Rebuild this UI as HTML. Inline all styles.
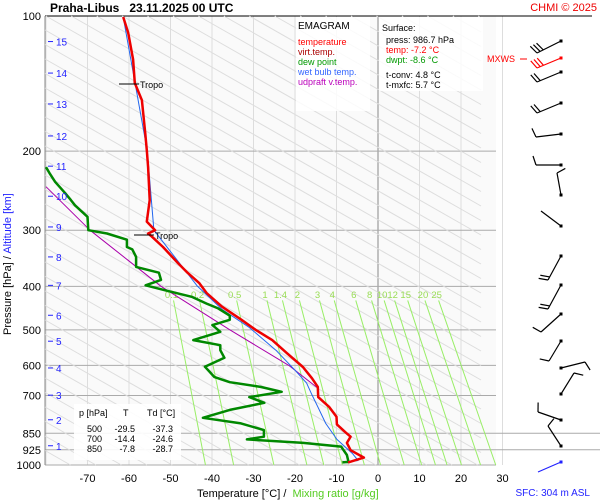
<!DOCTYPE html>
<html><head><meta charset="utf-8"><style>
html,body{margin:0;padding:0;background:#fff;width:600px;height:500px;overflow:hidden;}
svg{display:block;font-family:"Liberation Sans",sans-serif;}
</style></head><body>
<svg id="chart" width="600" height="500" viewBox="0 0 600 500">
<rect x="45" y="16" width="451" height="449" fill="#fafafa"/>
<g id="grid"></g>
<g id="adiabats"></g>
<g id="mixing"></g>
<g id="series"></g>
<g id="axes"></g>
<g id="winds"></g>

<text x="50" y="12" font-size="12" font-weight="bold">Praha-Libus&#160;&#160;&#160;23.11.2025 00 UTC</text>
<text x="597" y="11" font-size="11" fill="#e00" text-anchor="end">CHMI © 2025</text>

<g>
<rect x="296" y="17" width="74" height="94" fill="#fff" opacity="0.85"/>
<text x="298" y="29" font-size="10">EMAGRAM</text>
<text x="298" y="45" font-size="9" fill="#f00">temperature</text>
<text x="298" y="55" font-size="9" fill="#a00">virt.temp.</text>
<text x="298" y="65" font-size="9" fill="#090">dew point</text>
<text x="298" y="75" font-size="9" fill="#36f">wet bulb temp.</text>
<text x="298" y="85" font-size="9" fill="#b0b">udpraft v.temp.</text>
</g>
<g>
<rect x="379" y="17" width="104" height="74" fill="#fff" opacity="0.85"/>
<text x="382" y="31" font-size="9">Surface:</text>
<text x="386" y="43" font-size="9">press: 986.7 hPa</text>
<text x="386" y="53" font-size="9" fill="#f00">temp: -7.2 °C</text>
<text x="386" y="63" font-size="9" fill="#090">dwpt: -8.6 °C</text>
<text x="386" y="78" font-size="9">t-conv: 4.8 °C</text>
<text x="386" y="88" font-size="9">t-mxfc: 5.7 °C</text>
</g>
<g>
<rect x="74" y="404" width="107" height="56" fill="#fff" opacity="0.9"/>
<text x="79" y="416" font-size="9">p [hPa]</text><text x="123" y="416" font-size="9">T</text><text x="147" y="416" font-size="9">Td [°C]</text>
<text x="102" y="432" font-size="9" text-anchor="end">500</text><text x="135" y="432" font-size="9" text-anchor="end">-29.5</text><text x="173" y="432" font-size="9" text-anchor="end">-37.3</text>
<text x="102" y="442" font-size="9" text-anchor="end">700</text><text x="135" y="442" font-size="9" text-anchor="end">-14.4</text><text x="173" y="442" font-size="9" text-anchor="end">-24.6</text>
<text x="102" y="452" font-size="9" text-anchor="end">850</text><text x="135" y="452" font-size="9" text-anchor="end">-7.8</text><text x="173" y="452" font-size="9" text-anchor="end">-28.7</text>
</g>
<g>
<line x1="119" y1="84" x2="139" y2="84" stroke="#000"/><text x="140" y="88" font-size="9">Tropo</text>
<line x1="134" y1="235" x2="154" y2="235" stroke="#000"/><text x="155" y="239" font-size="9">Tropo</text>
</g>
<text x="487" y="62" font-size="9" fill="#f00">MXWS</text>
<line x1="520" y1="59" x2="527" y2="59" stroke="#f00"/>
<text transform="translate(11,335) rotate(-90)" font-size="11">Pressure [hPa]  /  <tspan fill="#22f">Altitude [km]</tspan></text>
<text x="197" y="497" font-size="11">Temperature [°C]  /  <tspan fill="#5c2" dx="3">Mixing ratio [g/kg]</tspan></text>
<text x="590" y="496" font-size="10" fill="#22f" text-anchor="end">SFC: 304 m ASL</text>
</svg>
<script>
const tempP=[986.7,963,927,893,865,846,812,781,742,706,670,641,605,564,527,500,475,444,414,393,373,355,327,310,305,300,287,257,217,199,182,154,141,125,109,100.5];
const tempT=[-7.2,-3.4,-6.6,-7.5,-6.6,-7.8,-9.9,-10,-11.8,-14.4,-14.5,-15.9,-18.1,-21.9,-25.5,-29.5,-32.9,-37.6,-41.3,-43.1,-45.9,-48.2,-51.8,-54.5,-55.4,-53.7,-55.7,-55,-55.4,-55.7,-56.1,-56.9,-58.6,-59,-60.2,-61.4];
const dewP=[986.7,984,950,910,893,877,865,836,808,785,754,727,706,687,670,654,637,604,577,555,541,527,505,488,475,465,448,437,422,408,398,387,373,362,344,331,327,315,305,300,280,264,257,248,234,225,217];
const dewT=[-8.6,-7.1,-7.5,-8.9,-18,-31.6,-27.5,-27.5,-33,-42.2,-35.7,-27.4,-31,-23.2,-28.3,-35.7,-39.4,-41.7,-37,-38,-38,-44.5,-38,-39.9,-35.7,-35.7,-38.5,-41.3,-44.9,-51.4,-56,-52.3,-52.8,-58.3,-58.3,-59.2,-60.5,-60.5,-65.3,-69.8,-70,-73,-74,-75.4,-77.8,-79,-80];
const wbP=[986.7,977,944,877,808,742,698,657,615,555,494,450,400,300,200,100.5];
const wbT=[-8,-4.8,-6.1,-9.9,-12.6,-14.5,-15.9,-17.2,-20,-24.6,-31,-37.6,-43.5,-54,-55.6,-61.4];
const updP=[674,600,500,400,300,240];
const updT=[-14.5,-21.5,-35.7,-52.3,-69.4,-80];
const pLabels=[100,200,300,400,500,600,700,850,925,1000];
const tLabels=[-70,-60,-50,-40,-30,-20,-10,0,10,20,30];
const mixRatios=[0.1,0.2,0.5,1,1.4,2,3,4,6,8,10,12,15,20,25];
const kmLabels=[1,2,3,4,5,6,7,8,9,10,11,12,13,14,15];
const kmPress=[906,793,699,608,530,464,398,344,295,252,216,185,157,134,114];
const windY=[41,58,72,103,134,165,195,226,256,285,314,341,368,394,420,446,462];
const windDx=[-24,-24,-24,-24,-25,-25,-4,-20,-13,-13,-20,-12,24,13,-23,-13,-23];
const windDy=[12,10,10,10,3,0,-22,-15,24,24,18,20,-6,-21,-8,-20,10];
const windFeathers=[3,3,2,2,1,1,1,0,2,2,1,1,1,1,1,1,0];
const windColor=["#000","#f00","#000","#000","#000","#000","#000","#000","#000","#000","#000","#000","#000","#000","#000","#000","#22f"];

const NS="http://www.w3.org/2000/svg";
const X0=378, KX=4.15, Y0=16, KY=449;
function xS(t){return X0+t*KX;}
function yS(p){return Y0+Math.log10(p/100)*KY;}
function mk(tag,attrs,parent){const e=document.createElementNS(NS,tag);for(const k in attrs)e.setAttribute(k,attrs[k]);parent.appendChild(e);return e;}
const grid=document.getElementById('grid'),adi=document.getElementById('adiabats'),mix=document.getElementById('mixing'),ser=document.getElementById('series'),axes=document.getElementById('axes'),winds=document.getElementById('winds');

for(let t=-80;t<=30;t+=10){
  const l=mk('line',{x1:xS(t),x2:xS(t),y1:16,y2:465,stroke:t===0?'#888':'#ddd','stroke-width':1},grid);
  
  
}
pLabels.forEach(p=>{
  const full=(p===850||p===925);
  const l=mk('line',{x1:45,x2:full?600:496,y1:yS(p),y2:yS(p),stroke:p===100?'#000':'#aaa','stroke-width':1},grid);
  if(p===100){l.setAttribute('x2',592);}
  
  
  const tx=mk('text',{x:41,y:yS(p)+4,'font-size':11,'text-anchor':'end'},axes);
  tx.textContent=p;
  
  
});
mk('line',{x1:45,x2:45,y1:16,y2:465,stroke:'#888'},grid);
tLabels.forEach(t=>{
  const tx=mk('text',{x:xS(t),y:482,'font-size':11,'text-anchor':'middle'},axes);
  tx.textContent=t;
  
  
});
kmLabels.forEach((k,i)=>{
  const y=yS(kmPress[i]);
  mk('line',{x1:48,x2:53,y1:y,y2:y,stroke:'#22f'},axes);
  const tx=mk('text',{x:56,y:y+4,'font-size':10,fill:'#22f'},axes);
  tx.textContent=k;
  
  
});
// diagonal background lines, clipped manually to plot box
const S=0.57;
for(let k=-260;k<=460;k+=14.5){
  let xa=45,ya=k,xb=481,yb=k+436*S;
  if(ya<16){xa=45+(16-k)/S;ya=16;}
  if(yb>465){xb=45+(465-k)/S;yb=465;}
  if(xa>=xb)continue;
  const pa=mk('line',{x1:xa.toFixed(1),y1:ya.toFixed(1),x2:xb.toFixed(1),y2:yb.toFixed(1),stroke:'#ddd','stroke-width':1},adi);
  
  
}
function tdOf(w,p){const e=w*p/(622+w);const l=Math.log(e/6.112);return 243.5*l/(17.67-l);}
mixRatios.forEach(w=>{
  const pa=mk('line',{x1:xS(tdOf(w,430)),y1:yS(430),x2:xS(tdOf(w,1000)),y2:465,stroke:'#9e6','stroke-width':1},mix);
  
  
  const tx=mk('text',{x:xS(tdOf(w,430))-2,y:298,'font-size':9.5,fill:'#9d5','text-anchor':'middle'},mix);
  tx.textContent=w;
  
  
});
function line(P,T,color,w,name){
  let d='';P.forEach((p,i)=>{d+=(i?'L':'M')+xS(T[i]).toFixed(1)+','+yS(p).toFixed(1);});
  const pa=mk('path',{d:d,fill:'none',stroke:color,'stroke-width':w,'stroke-linejoin':'round'},ser);
  
  
}
line(updP,updT,'#a0a',1,'updraft-line');
line(wbP,wbT,'#26e',1,'wet-bulb-line');
line(dewP,dewT,'#080',2.5,'dew-point-line');
line(tempP,tempT,'#e00',2.5,'temperature-line');
windY.forEach((y,i)=>{
  const x=561,dx=windDx[i],dy=windDy[i],c=windColor[i];
  const ex=x+dx,ey=y+dy,L=Math.hypot(dx,dy),ux=dx/L,uy=dy/L;
  const g=mk('g',{},winds);
  
  
  mk('line',{x1:x,y1:y,x2:ex,y2:ey,stroke:c,'stroke-width':1.2},g);
  mk('rect',{x:x-1.5,y:y-1.5,width:3,height:3,fill:c},g);
  for(let f=0;f<windFeathers[i];f++){
    const bx=ex-ux*f*3.5,by=ey-uy*f*3.5;
    mk('line',{x1:bx,y1:by,x2:bx-uy*9+ux*3,y2:by+ux*9+uy*3,stroke:c,'stroke-width':1.2},g);
  }
});
</script>
</body></html>
